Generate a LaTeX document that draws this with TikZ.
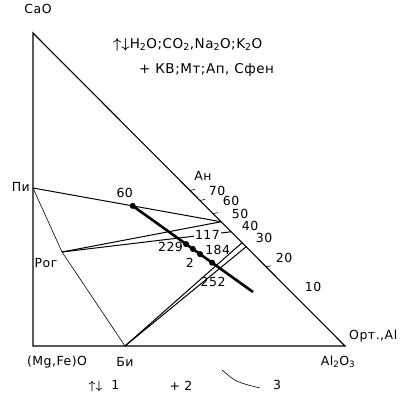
\documentclass[tikz,border=0pt]{standalone}
\usepackage{fontspec}
\setmainfont{DejaVu Sans}[LetterSpace=4]
\usetikzlibrary{calc}
\tikzset{
  side/.style={line width=1.1pt},
  thn/.style={line width=0.6pt},
  tie/.style={line width=1pt},
  trend/.style={line width=2.6pt},
  dot/.style={circle,fill,inner sep=0pt,minimum size=6pt},
  lab/.style={font=\fontsize{12.5}{14}\selectfont,inner sep=1pt},
  ttl/.style={font=\fontsize{13.5}{15}\selectfont,inner sep=1pt,anchor=west}
}
\newcommand{\sbs}[1]{\textsubscript{#1}}
\newcommand{\mob}{{\boldmath$\uparrow\downarrow$}}

\begin{document}
\begin{tikzpicture}[x=1pt,y=-1pt]
\useasboundingbox (0,0) rectangle (406,396);
\coordinate (CaO) at (33,33); \coordinate (MgO) at (33,346); \coordinate (Al) at (345,346);
\coordinate (Pi) at (33,188); \coordinate (Rog) at (62,252); \coordinate (Bi) at (125,346);
\coordinate (AnT) at ($(CaO)!0.503!(Al)$);
\coordinate (An50) at ($(CaO)!0.603!(Al)$);
\coordinate (An40) at ($(CaO)!0.635!(Al)$);
\coordinate (An35) at ($(CaO)!0.670!(Al)$);
\coordinate (An30) at ($(CaO)!0.683!(Al)$);
\coordinate (tEnd) at (253,292);
\draw[side] (CaO) -- (MgO) -- (Al) -- cycle;
\draw[thn] (Pi) -- (Rog) -- (Bi);
\draw[tie] (Pi) -- (An50); \draw[tie] (Rog) -- (An50);
\draw[tie] (Rog) -- (An40) node[lab,pos=0.86,fill=white] (n117) {117};
\draw[tie] (Bi) -- (An30); \draw[tie] (Bi) -- (An35);
\coordinate (d60) at ($(Pi)!0.53!(An50)$);
\draw[trend] (d60) -- (tEnd);
\node[dot] (p60) at (d60) {};
\node[dot] (p229) at ($(d60)!0.444!(tEnd)$) {};
\node[dot] (p2) at ($(d60)!0.50!(tEnd)$) {};
\node[dot] (p184) at ($(d60)!0.56!(tEnd)$) {};
\node[dot] (p252) at ($(d60)!0.66!(tEnd)$) {};
\node[lab] (l60) at ($(p60)+(-8,-13)$) {60};
\node[lab,anchor=east] (l229) at ($(p229)+(-2,3)$) {229};
\node[lab] (l2) at ($(p2)+(-3,14)$) {2};
\node[lab,anchor=west] (l184) at ($(p184)+(4,-4)$) {184};
\node[lab] (l252) at ($(p252)+(1,19)$) {252};
\foreach \t in {0.535,0.577,0.747}
  \draw[thn] ($(CaO)!\t!(Al)$) -- ++(5,-1);
\draw[thn] (AnT) -- ++(5,-1);
\foreach \v/\x/\y in {70/217/191,60/231/201,50/240/214,40/250/226,30/264/238,20/284/258,10/313/287}
  \node[lab] (t\v) at (\x,\y) {\v};
\node[lab] (lAn) at ($(AnT)+(13,-14)$) {Ан};
\node[lab] (lCaO) at (38,9) {CaO};
\node[lab,anchor=east] (lPi) at ($(Pi)+(-2,-1)$) {Пи};
\node[lab] (lRog) at ($(Rog)+(-16,11)$) {Рог};
\node[lab] (lMgO) at (57,362) {(Mg,Fe)O};
\node[lab] (lBi) at (125,362) {Би};
\node[lab] (lAl) at (338,362) {Al\sbs{2}O\sbs{3}};
\node[lab,anchor=west] (lOrt) at (348,336) {Орт.,Al};
\node[ttl] (mob) at (112,45) {\mob H\sbs{2}O;CO\sbs{2},Na\sbs{2}O;K\sbs{2}O};
\node[ttl] (exc) at (138,70) {+ КВ;Мт;Ап, Сфен};
\node[lab] (key1) at (104,386) {\mob\ \ 1};
\node[lab] (key2) at (181,386) {+ 2};
\coordinate (c3a) at (222,370); \coordinate (c3b) at (260,388);
\draw[thn] (c3a) .. controls (236,382) .. (c3b);
\node[lab] (key3) at (277,385) {3};
\end{tikzpicture}
\end{document}
